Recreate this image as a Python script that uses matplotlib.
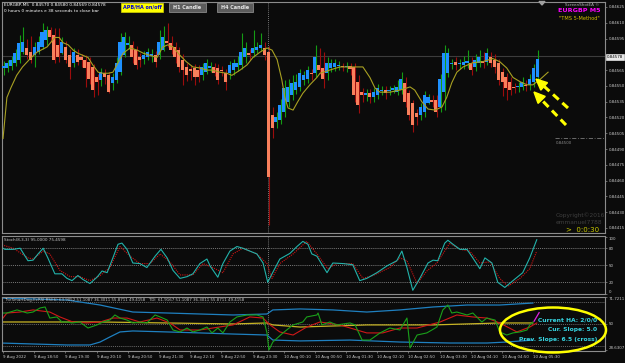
import matplotlib
matplotlib.use("Agg")
import matplotlib.pyplot as plt
import numpy as np
from matplotlib.patches import Ellipse, Rectangle, Polygon

# prices are kept in points above 0.84000 (1 pt = 0.00001)
ha_open = [567, 567, 569, 572, 575, 582, 586, 582, 579, 582,
           587, 594, 603, 598, 589, 581, 587, 579, 572, 579,
           577, 575, 573, 568, 558, 556, 562, 560, 553, 556,
           563, 579, 589, 589, 584, 577, 576, 577, 578, 579,
           579, 584, 593, 591, 587, 584, 575, 568, 566, 567,
           565, 560, 563, 567, 568, 567, 565, 562, 562, 565,
           568, 570, 577, 581, 581, 584, 586, 586, 582, 522,
           516, 518, 525, 535, 541, 546, 549, 556, 557, 562,
           562, 570, 567, 562, 567, 568, 569, 569, 568, 569,
           568, 554, 544, 541, 543, 539, 541, 545, 546, 545,
           546, 544, 546, 553, 543, 534, 524, 522, 525, 534,
           537, 537, 530, 544, 562, 571, 573, 571, 570, 572,
           572, 568, 572, 573, 573, 577, 575, 572, 563, 558,
           554, 549, 549, 549, 551, 551, 554, 558]
ha_close = [569, 572, 575, 581, 591, 592, 579, 575, 587, 592,
            601, 603, 596, 575, 577, 592, 575, 568, 582, 573,
            575, 567, 557, 546, 554, 563, 558, 544, 558, 572,
            592, 596, 591, 577, 570, 575, 579, 582, 580, 573,
            592, 596, 591, 584, 577, 568, 565, 560, 564, 558,
            558, 568, 572, 569, 562, 556, 564, 554, 570, 572,
            572, 582, 586, 579, 586, 587, 589, 579, 463, 510,
            520, 532, 548, 549, 553, 554, 562, 560, 565, 561,
            577, 565, 557, 572, 572, 572, 570, 568, 569, 566,
            541, 532, 541, 543, 539, 544, 548, 546, 543, 546,
            548, 549, 557, 535, 522, 513, 520, 530, 541, 539,
            535, 525, 557, 581, 581, 572, 570, 572, 573, 574,
            565, 575, 577, 572, 581, 572, 568, 556, 554, 548,
            546, 548, 550, 554, 550, 557, 567, 576]
bar_high = [574, 575, 578, 585, 598, 606, 595, 597, 592, 597,
            610, 607, 606, 605, 605, 596, 593, 585, 586, 585,
            580, 579, 577, 571, 561, 567, 566, 563, 562, 577,
            600, 601, 597, 593, 588, 581, 583, 586, 585, 583,
            603, 607, 610, 597, 592, 587, 580, 572, 570, 571,
            570, 572, 576, 573, 572, 571, 569, 566, 574, 576,
            578, 600, 592, 585, 603, 592, 600, 592, 588, 530,
            525, 538, 556, 557, 560, 561, 566, 564, 569, 566,
            589, 586, 582, 577, 576, 576, 574, 572, 573, 572,
            572, 560, 548, 547, 547, 548, 552, 550, 550, 550,
            551, 556, 563, 558, 546, 537, 528, 534, 545, 542,
            541, 541, 561, 589, 586, 576, 577, 576, 578, 584,
            577, 580, 584, 582, 586, 582, 580, 576, 567, 562,
            558, 553, 554, 558, 556, 561, 571, 584]
bar_low = [560, 563, 565, 569, 572, 580, 576, 572, 568, 580,
           585, 589, 592, 572, 573, 580, 572, 557, 568, 570,
           568, 549, 552, 539, 541, 550, 552, 543, 546, 553,
           560, 577, 585, 572, 566, 568, 571, 575, 573, 568,
           576, 583, 587, 580, 572, 563, 551, 555, 556, 551,
           554, 556, 561, 563, 559, 552, 559, 546, 557, 560,
           564, 566, 572, 575, 577, 581, 583, 575, 418, 500,
           510, 514, 520, 530, 537, 542, 545, 551, 553, 556,
           558, 561, 548, 556, 563, 564, 565, 564, 563, 560,
           535, 524, 535, 536, 534, 535, 538, 541, 538, 541,
           543, 541, 542, 530, 518, 506, 513, 518, 520, 533,
           530, 520, 525, 527, 558, 566, 565, 566, 566, 567,
           560, 564, 568, 567, 570, 568, 562, 551, 540, 537,
           541, 543, 544, 546, 545, 546, 549, 553]

# moving average (bar index, points)
ma_x = [0, 1, 2, 3.5, 5, 7, 8.7, 11.3, 13.3, 14.4, 15.4, 16.7, 18, 19.2, 20.5,
        21.8, 23, 24.4, 25.6, 27, 28.2, 29.5, 30.8, 32.6, 34.4, 36, 37.7, 39.5,
        41, 42.3, 43.6, 45.4, 47, 48.7, 50.5, 52.3, 53.8, 55.6, 57.4, 58.7, 60.8,
        62.6, 64.1, 65.9, 67.7, 69, 70.3, 71.5, 72.3, 73.1, 74.4, 75.6, 76.9,
        78.7, 80.5, 81.3, 83.8, 86.4, 89, 92.3, 94.1, 95.4, 96.7, 99.2, 101.8,
        104.4, 105.6, 107.4, 109, 110.8, 112.6, 113.8, 115.1, 116.4, 118, 120.5,
        123.1, 125.6, 127.4, 129.2, 130.8, 132.6, 134.4, 135.9, 137.7, 139.8]
ma_v = [500, 539, 548, 560, 568, 576, 582, 587, 596, 596, 591, 589, 584, 581, 579,
        577, 570, 563, 562, 562, 563, 572, 581, 586, 584, 581, 579, 577, 587, 589,
        587, 579, 573, 568, 567, 565, 565, 563, 562, 560, 565, 570, 577, 582, 586,
        584, 575, 556, 539, 529, 527, 535, 543, 551, 558, 562, 565, 568, 568, 568,
        558, 548, 544, 544, 546, 549, 546, 535, 528, 527, 530, 539, 553, 563, 568,
        572, 573, 576, 573, 567, 558, 554, 551, 551, 556, 563]

stoch_kx = [-0.8, 0.5, 2.6, 4.4, 6.4, 7.7, 9, 10.3, 11.5, 13.3, 15.1, 16.4, 17.7,
            19.2, 20.5, 22.3, 24.1, 25.4, 26.7, 27.9, 29.5, 30.5, 31.8, 33.3, 35.1,
            36.9, 39, 40.5, 42.1, 43.6, 45.4, 47.2, 48.7, 50.5, 52.3, 53.1, 55.1,
            56.4, 58.2, 60, 61.5, 63.3, 65.1, 66.7, 67.9, 69, 71, 73.6, 75.4, 76.9,
            78.2, 79.2, 80.5, 83.1, 84.6, 87.2, 89.7, 91.5, 93.3, 95.9, 98.5, 101,
            102.3, 103.6, 105.1, 106.9, 109, 110.3, 111.5, 113.3, 114.1, 115.4,
            117.2, 119, 120.5, 122.3, 123.6, 125.4, 126.9, 128.7, 130.8, 133.3,
            135.1, 136.9]
stoch_k = [83, 78, 78, 80, 58, 59, 70, 80, 63, 35, 35, 27, 23, 32, 25, 18, 29, 40,
           37, 58, 87, 89, 78, 54, 53, 46, 66, 78, 63, 41, 27, 30, 35, 53, 61, 49,
           29, 53, 75, 83, 80, 75, 70, 54, 20, 35, 61, 71, 83, 92, 87, 70, 66, 37,
           54, 53, 51, 23, 27, 37, 49, 58, 75, 46, 6, 27, 54, 59, 58, 89, 94, 87,
           78, 78, 63, 44, 63, 54, 20, 11, 23, 37, 63, 95]
stoch_dx = [-0.8, 2.6, 6.4, 7.7, 10.3, 12, 14.6, 17.2, 19.7, 22.3, 24.9, 27.4, 30,
            32.6, 35.1, 37.7, 40.3, 42.8, 45.4, 48.7, 51.3, 53.8, 56.4, 59, 61.5,
            65.1, 67.7, 69, 71, 74.4, 77.9, 80.5, 83.3, 85.6, 89.7, 92.3, 94.9,
            99.2, 101.8, 103.6, 106.2, 108.7, 111.3, 114.6, 117.2, 119.7, 122.3,
            124.9, 127.4, 129.5, 132.6, 135.1, 136.9]
stoch_d = [87, 80, 63, 61, 75, 70, 41, 30, 30, 23, 32, 46, 83, 66, 53, 53, 70, 56,
           33, 33, 53, 46, 37, 70, 80, 70, 53, 27, 53, 70, 92, 70, 44, 53, 53, 27,
           32, 46, 63, 58, 18, 40, 54, 89, 78, 75, 54, 56, 27, 13, 27, 44, 75]

tdi_up_x = [-0.8, 16.4, 24.9, 33.3, 42.1, 50.5, 59, 67.7, 69.2, 76.2, 84.6, 93.3,
            101.8, 110.3, 119, 127.4, 135.9]
tdi_up = [70.9, 69.3, 65.2, 59.5, 58.7, 57.9, 57.1, 57.9, 61.2, 62.0, 61.2, 59.5,
          61.2, 63.6, 65.2, 65.2, 66.8]
tdi_lo_x = [-0.8, 16.4, 22.3, 24.9, 27.4, 30, 33.3, 42.1, 50.5, 59, 67.7, 69.2,
            76.2, 89, 101.8, 114.6, 124.1, 129.2, 135.9]
tdi_lo = [34.3, 32.7, 32.7, 35.1, 39.2, 43.3, 44.1, 43.3, 42.5, 41.6, 40.8, 36.7,
          36.0, 36.7, 35.1, 34.3, 34.3, 35.1, 36.7]
tdi_mid_x = [-0.8, 24.9, 42.1, 59, 67.7, 69.2, 76.2, 93.3, 110.3, 127.4, 135.9]
tdi_mid = [51.4, 51.4, 50.6, 49.8, 50.6, 49.0, 47.3, 49.0, 49.0, 50.6, 50.6]
tdi_sig_x = [-0.8, 1, 4.4, 7.7, 12, 14.6, 17.9, 21.5, 24.9, 28.2, 31.8, 35.1, 39.5,
             42.8, 45.4, 50.5, 53.8, 59, 63.3, 66.7, 68.5, 71, 74.4, 77.9, 81.3,
             86.4, 93.3, 97.4, 101.8, 106.2, 112.1, 116.4, 120.5, 124.1, 127.4,
             131.8, 135.1, 136.9]
tdi_sig = [51.4, 58.7, 59.5, 61.2, 59.5, 55.5, 51.4, 50.6, 51.4, 54.6, 54.6, 51.4,
           54.6, 50.6, 44.9, 44.9, 46.5, 49.0, 55.5, 54.6, 49.0, 43.3, 40.8, 47.3,
           51.4, 49.0, 42.5, 42.5, 46.5, 46.5, 51.4, 57.1, 55.5, 54.6, 50.6, 43.3,
           47.3, 50.6]
tdi_rsi_x = [-0.8, 1, 3.6, 6.2, 7.7, 9.5, 10.8, 12, 13.8, 15.1, 16.4, 17.7, 19.7,
             21.8, 24.1, 25.6, 27.4, 28.7, 30, 31.8, 33.3, 35.1, 36.9, 39, 40.3,
             42.1, 43.6, 45.4, 47.2, 48.7, 50.5, 52.3, 53.6, 55.1, 56.4, 58.2, 60,
             62.6, 65.1, 66.7, 67.7, 68.2, 69.2, 71.8, 74.4, 76.9, 77.9, 80.5, 80.8,
             81.8, 83.8, 85.6, 89, 90.3, 92.1, 94.1, 96.7, 99.2, 101.8, 103.6, 104.4,
             106.2, 108.7, 111.3, 112.8, 114.1, 115.1, 116.4, 119, 120.5, 122.8,
             124.1, 126.2, 127.4, 129.2, 130.8, 132.6, 134.4, 135.1, 135.9]
tdi_rsi = [58.7, 58.7, 61.2, 58.7, 59.5, 62.8, 63.6, 54.6, 55.5, 51.4, 51.4, 50.6,
           51.4, 46.5, 49.0, 51.4, 53.0, 57.1, 54.6, 53.0, 50.6, 51.4, 50.6, 57.1,
           55.5, 53.0, 44.9, 43.3, 46.5, 43.3, 44.9, 47.3, 42.5, 46.5, 42.5, 51.4,
           55.5, 57.1, 57.1, 55.5, 42.5, 28.6, 35.1, 42.5, 49.0, 51.4, 55.5, 57.1,
           58.7, 49.0, 51.4, 49.0, 50.6, 49.0, 36.7, 36.7, 42.5, 46.5, 44.9, 54.6,
           30.3, 40.8, 42.5, 47.3, 61.2, 65.2, 58.7, 59.5, 57.1, 58.7, 51.4, 54.6,
           53.0, 43.3, 40.8, 42.5, 43.3, 44.9, 49.0, 51.4]
slope_x = [136.2, 137.5]
slope_v = [52.0, 59.0]

price_ticks = [625, 610, 595, 565, 550, 535, 520, 505, 490, 475, 460, 445, 430, 415]
time_labels = ["9 Aug 2022", "9 Aug 18:50", "9 Aug 19:30", "9 Aug 20:10", "9 Aug 20:50",
               "9 Aug 21:30", "9 Aug 22:10", "9 Aug 22:50", "9 Aug 23:30",
               "10 Aug 00:10", "10 Aug 00:50", "10 Aug 01:30", "10 Aug 02:10",
               "10 Aug 02:50", "10 Aug 03:30", "10 Aug 04:10", "10 Aug 04:50",
               "10 Aug 05:30"]


def price(v):
    return 0.84 + np.asarray(v, dtype=float) / 1e5


BG = "#0b0b0b"
FRAME = "#8c8c8c"
TXT = "#c8c8c8"
FS = 2.9

fig = plt.figure(figsize=(6.25, 3.63), dpi=100, facecolor=BG)


def px_axes(left, top, right, bottom):
    ax = fig.add_axes([left / 625, 1 - bottom / 363, (right - left) / 625, (bottom - top) / 363])
    ax.set_facecolor(BG)
    for s in ax.spines.values():
        s.set_color(FRAME)
        s.set_linewidth(0.8)
    ax.yaxis.tick_right()
    ax.tick_params(axis="y", colors=FRAME, labelcolor=TXT, labelsize=FS, length=1.5, pad=1.2, width=0.5)
    ax.set_xlim(-0.26, 154.4)
    return ax


ax1 = px_axes(2, 2, 605, 233)
ax2 = px_axes(2, 236, 605, 294)
ax3 = px_axes(2, 297, 605, 351)

# ---- main price panel
ax1.set_ylim(price(410.2), price(629.7))
ax1.set_xticks([])
ax1.set_yticks(price(price_ticks))
ax1.set_yticklabels(["%.5f" % p for p in price(price_ticks)])

idx = np.arange(len(ha_open))
o = np.array(ha_open)
c = np.array(ha_close)
up = c >= o
wick_col = np.where(up, "#149c14", "#9c0c0c")
body_col = np.where(up, "#1e90ff", "#f9805c")
ax1.axhline(price(578), color="#3c3c3c", lw=0.8, zorder=1)
ax1.axvline(68, color="#9a9a9a", ls=(0, (1, 1.5)), lw=0.6, zorder=1)
ax1.vlines(idx + 0.25, price(bar_low), price(bar_high), colors=wick_col, lw=0.8, zorder=2)
lo = np.minimum(o, c)
hgt = np.maximum(np.abs(c - o), 1.2)
ax1.bar(idx, hgt / 1e5, bottom=price(lo), width=0.78, color=body_col, lw=0, zorder=3)
ax1.plot(ma_x, price(ma_v), color="#a8a022", lw=0.8, zorder=4)
ax1.hlines(price(500), 141.5, 154.4, colors="#7a7a7a", linestyles=(0, (5, 2, 1, 2)), lw=0.6)
ax1.text(141.8, price(497.5), "0.84500", color="#8a8a8a", fontsize=FS, va="top")

# ---- stochastic
ax2.set_ylim(-0.5, 101.5)
ax2.set_xticks([])
ax2.set_yticks([100, 80, 50, 20, 0])
for lvl in (20, 50, 80):
    ax2.axhline(lvl, color="#a0a0a0", ls=(0, (1.5, 1.5)), lw=0.5)
ax2.axvline(68, color="#9a9a9a", ls=(0, (1, 1.5)), lw=0.6)
ax2.plot(stoch_dx, stoch_d, color="#d01414", ls=(0, (1, 1)), lw=0.8)
ax2.plot(stoch_kx, stoch_k, color="#22b2aa", lw=0.8)
ax2.get_yticklabels()[0].set_va("top")
ax2.get_yticklabels()[-1].set_va("bottom")

# ---- TDI
ax3.set_ylim(27.8, 71.7211)
ax3.set_yticks([71.7211, 50, 28.6307])
ax3.set_yticklabels(["71.7211", "50", "28.6307"])
ax3.get_yticklabels()[0].set_va("top")
ax3.get_yticklabels()[-1].set_va("bottom")
for lvl in (32, 50, 68):
    ax3.axhline(lvl, color="#8a8a8a", ls=(0, (1.5, 1.5)), lw=0.5)
ax3.axvline(68, color="#9a9a9a", ls=(0, (1, 1.5)), lw=0.6)
ax3.plot(tdi_up_x, tdi_up, color="#1f80c0", lw=0.9)
ax3.plot(tdi_lo_x, tdi_lo, color="#1f80c0", lw=0.9)
ax3.plot(tdi_mid_x, tdi_mid, color="#c8b424", lw=0.9)
ax3.plot(tdi_sig_x, tdi_sig, color="#d01818", lw=0.8)
ax3.plot(tdi_rsi_x, tdi_rsi, color="#1aa01a", lw=0.8)
ax3.plot(slope_x, slope_v, color="#e020e0", lw=0.9)
ax3.set_xticks(np.arange(0, 137, 8))
ax3.set_xticklabels(time_labels)
ax3.tick_params(axis="x", colors=FRAME, labelcolor=TXT, labelsize=2.9, length=1.5, pad=1.2, width=0.5)
for lab in ax3.get_xticklabels():
    lab.set_ha("left")

# ---- overlay for texts and drawings (figure pixels)
ov = fig.add_axes([0, 0, 1, 1], zorder=10)
ov.set_xlim(0, 625)
ov.set_ylim(363, 0)
ov.axis("off")
ov.patch.set_alpha(0)

ov.text(4, 5, "EURGBP,M5  0.84570 0.84580 0.84569 0.84578", color="white", fontsize=3.1, va="center")
ov.text(4, 11.5, "0 hours 0 minutes e 38 seconds to close bar", color="white", fontsize=3.1, va="center")

ov.add_patch(Rectangle((121, 2.5), 42, 9, fc="#ffff00", ec="#d0d000", lw=0.5))
ov.text(142, 7, "APB/HA on/off", color="#0000d8", fontsize=3.5, fontweight="bold", ha="center", va="center")
for x0, w, lab in ((169, 37, "H1 Candle"), (217, 36, "H4 Candle")):
    ov.add_patch(Rectangle((x0, 3), w, 9, fc="#5c5c5c", ec="#9a9a9a", lw=0.5))
    ov.text(x0 + w / 2, 7.5, lab, color="#e8e8e8", fontsize=3.5, fontweight="bold", ha="center", va="center")

ov.add_patch(Polygon([[539, 1.5], [545, 1.5], [542, 5]], closed=True, color="#a0a0a0"))
ov.text(599, 5, "ScreenShotEA \u00a9", color="#b4b4b4", fontsize=3.0, ha="right", va="center")
ov.text(600, 11, "EURGBP M5", color="#ff00ff", fontsize=4.6, fontweight="bold", ha="right", va="center")
ov.text(600, 19, '"TMS 5-Method"', color="#d4c000", fontsize=3.6, ha="right", va="center")

ov.text(606.5, 57, "0.84578", color="black", fontsize=FS, va="center",
        bbox=dict(boxstyle="square,pad=0.2", fc="#e8e8e8", ec="#ffffff", lw=0.4))

ov.text(556, 215, "Copyright\u00a92016", color="#3e3e3e", fontsize=4.2, va="center")
ov.text(556, 223, "emmanuel7788", color="#3e3e3e", fontsize=4.2, va="center")
ov.text(599, 229.5, ">  0:0:30", color="#caca00", fontsize=5, ha="right", va="center")

ov.text(4, 240, "Stoch(8,3,3) 95.0000 75.4598", color=TXT, fontsize=3.0, va="center")
ov.text(4, 299.5, "TheSmartDog-EcRSI RSI(6) 63.9052 51.1087 36.3011 55.8711 49.4158   "
        "TDI  61.9167 51.1087 36.3011 55.8711 49.4158", color=TXT, fontsize=2.9, va="center")


def dashed_arrow(tail, tip):
    t = np.array(tail, float)
    h = np.array(tip, float)
    d = (h - t) / np.hypot(*(h - t))
    n = np.array([-d[1], d[0]])
    base = h - d * 11
    ov.plot([t[0], base[0]], [t[1], base[1]], color="#ffff00", lw=2.2, ls=(0, (2.5, 1.6)),
            solid_capstyle="butt")
    ov.add_patch(Polygon([h, base + n * 5, base - n * 5], closed=True, color="#ffff00"))


dashed_arrow((568, 108), (536, 79))
dashed_arrow((566, 125), (534, 92))

ov.add_patch(Ellipse((553, 330), 106, 45, fill=False, ec="#ffff00", lw=1.8))
for yy, s in ((320, "Current HA: 2/0/0"), (330, "Cur. Slope: 5.0"), (340, "Prev. Slope: 6.5 (cross)")):
    ov.text(597, yy, s, color="#36d4e0", fontsize=4.3, fontweight="bold", ha="right", va="center")

fig.savefig("out.png", dpi=100, facecolor=BG)
